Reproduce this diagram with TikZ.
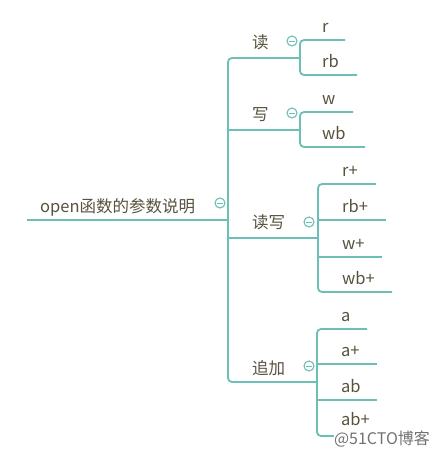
\documentclass[tikz,border=0pt]{standalone}
\usepackage{fontspec}
\newfontfamily\cjk{Noto Sans CJK SC}
\definecolor{teal2}{HTML}{6BBFB5}
\definecolor{ink}{HTML}{58523E}
\begin{document}
\begin{tikzpicture}[x=1pt,y=-1pt,
 conn/.style={draw=teal2,line width=1.8pt,rounded corners=4pt},
 lbl/.style={font=\cjk\fontsize{16.5}{18}\selectfont,text=ink,inner sep=0pt},
 leaf/.style={lbl,anchor=base west},
 fold/.style={circle,draw=teal2,line width=1.1pt,fill=white,minimum size=10pt,inner sep=0pt,
   path picture={\draw[teal2,line width=0.9pt] ([xshift=-3pt]path picture bounding box.center) -- ([xshift=3pt]path picture bounding box.center);}}]
\useasboundingbox[fill=white] (0,0) rectangle (440,451);

% root
\node[lbl,anchor=base west] (root) at (40,212) {open函数的参数说明};
\coordinate (rootL) at (27,220);
\coordinate (J) at (228,220);
\draw[conn] (rootL) -- (J);
\node[fold] (f0) at (220,203) {};

% trunk
\coordinate (t1) at (228,58);
\coordinate (t2) at (228,130);
\coordinate (t3) at (228,238);
\coordinate (t4) at (228,382);
\coordinate (b1) at (300,58);
\coordinate (b2) at (300,130);
\coordinate (b3) at (318,238);
\coordinate (b4) at (317,382);
\draw[conn] (b1) -- (t1) -- (t4) -- (b4);
\draw[conn] (t2) -- (b2);
\draw[conn] (t3) -- (b3);

% branch labels
\node[lbl,anchor=west] (n1) at (252,42) {读};
\node[lbl,anchor=west] (n2) at (252,115) {写};
\node[lbl,anchor=west] (n3) at (252,222) {读写};
\node[lbl,anchor=west] (n4) at (252,368) {追加};

% 读
\coordinate (s1a) at (300,40); \coordinate (s1b) at (300,75);
\coordinate (e11) at (345,40); \coordinate (e12) at (357,75);
\draw[conn] (e11) -- (s1a) -- (s1b) -- (e12);
\node[leaf] (l11) at (322,32) {r};
\node[leaf] (l12) at (322,67) {rb};
\node[fold] (f1) at (292,41) {};

% 写
\coordinate (s2a) at (300,112); \coordinate (s2b) at (300,147);
\coordinate (e21) at (353,112); \coordinate (e22) at (365,147);
\draw[conn] (e21) -- (s2a) -- (s2b) -- (e22);
\node[leaf] (l21) at (322,104) {w};
\node[leaf] (l22) at (322,139) {wb};
\node[fold] (f2) at (292,113) {};

% 读写
\coordinate (s3a) at (318,184); \coordinate (s3b) at (318,292);
\coordinate (m31) at (318,220); \coordinate (m32) at (318,257);
\coordinate (e31) at (376,184); \coordinate (e32) at (386,220);
\coordinate (e33) at (382,257); \coordinate (e34) at (392,292);
\draw[conn] (e31) -- (s3a) -- (s3b) -- (e34);
\draw[conn] (m31) -- (e32);
\draw[conn] (m32) -- (e33);
\node[leaf] (l31) at (342,176) {r+};
\node[leaf] (l32) at (342,212) {rb+};
\node[leaf] (l33) at (342,249) {w+};
\node[leaf] (l34) at (342,284) {wb+};
\node[fold] (f3) at (309,222) {};

% 追加
\coordinate (s4a) at (317,329); \coordinate (s4b) at (317,436);
\coordinate (m41) at (317,364); \coordinate (m42) at (317,400);
\coordinate (e41) at (367,329); \coordinate (e42) at (377,364);
\coordinate (e43) at (377,400); \coordinate (e44) at (382,436);
\draw[conn] (e41) -- (s4a) -- (s4b) -- (e44);
\draw[conn] (m41) -- (e42);
\draw[conn] (m42) -- (e43);
\node[leaf] (l41) at (341,321) {a};
\node[leaf] (l42) at (341,356) {a+};
\node[leaf] (l43) at (341,392) {ab};
\node[leaf] (l44) at (341,425) {ab+};
\node[fold] (f4) at (309,366) {};

% watermark
\node[font=\cjk\fontsize{16}{18}\selectfont,text=black!55,fill=white,inner sep=0pt] (wm) at (382,439) {@51CTO博客};
\end{tikzpicture}
\end{document}
